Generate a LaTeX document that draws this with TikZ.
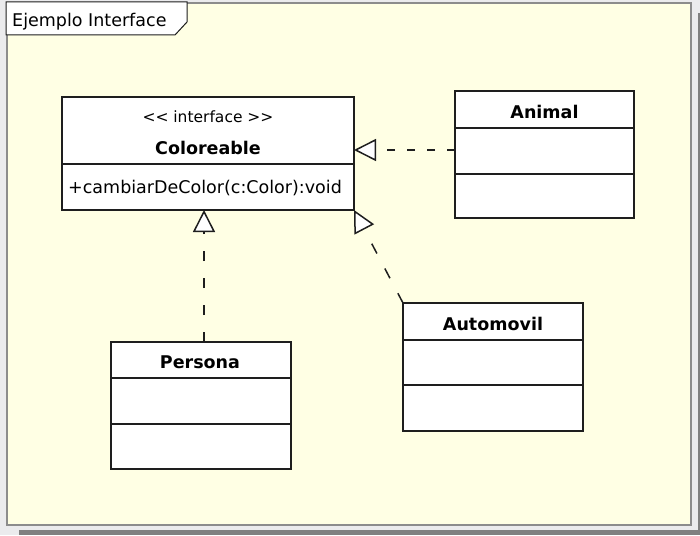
\documentclass[tikz,border=0pt]{standalone}
\usepackage{fontspec}
\setmainfont{DejaVu Sans}
\usetikzlibrary{arrows.meta}
\definecolor{bgyellow}{RGB}{255,255,228}
\definecolor{outergray}{RGB}{235,235,237}
\definecolor{framegray}{RGB}{140,140,140}
\definecolor{shadowgray}{RGB}{128,128,128}
\definecolor{linecol}{RGB}{30,30,30}
\tikzset{
  classbox/.style={draw=linecol, fill=white, line width=1.5pt, inner sep=0pt, outer sep=0pt, anchor=north west},
  divider/.style={draw=linecol, line width=1.5pt},
  txt/.style={font=\fontsize{17.5}{20}\selectfont, inner sep=0pt, anchor=base},
  boldtxt/.style={font=\fontsize{17.5}{20}\selectfont\bfseries, inner sep=0pt, anchor=base},
  realize/.style={draw=linecol, line width=1.5pt, -{Triangle[length=22pt,width=22pt,fill=white]}},
}
\begin{document}
\begin{tikzpicture}[x=1pt,y=-1pt]
\useasboundingbox (0,0) rectangle (700,535);
\fill[outergray] (0,0) rectangle (700,535);
\fill[shadowgray] (698,13) rectangle (700,535);
\fill[shadowgray] (19,530) rectangle (700,535);
\filldraw[fill=bgyellow, draw=framegray, line width=2pt] (7,3) rectangle (691,525);
% title tab
\filldraw[fill=white, draw=linecol, line width=1pt] (6,2) -- (187,2) -- (187,22) -- (175,35) -- (6,35) -- cycle;
\node[txt, anchor=base west] (title) at (12,27) {Ejemplo Interface};

% Coloreable
\node[classbox, minimum width=292pt, minimum height=113pt] (coloreable) at (62,97) {};
\draw[divider] (62,164) -- (354,164);
\node[txt, font=\fontsize{15.5}{20}\selectfont] (stereo) at (208,122) {<\kern0pt< interface >\kern0pt>};
\node[boldtxt] (colname) at (208,154) {Coloreable};
\node[txt, anchor=base west] (colop) at (68,193) {+cambiarDeColor(c:Color):void};

% Animal
\node[classbox, minimum width=179pt, minimum height=127pt] (animal) at (455,91) {};
\draw[divider] (455,128) -- (634,128);
\draw[divider] (455,174) -- (634,174);
\node[boldtxt] (animalname) at (544.5,118) {Animal};

% Automovil
\node[classbox, minimum width=180pt, minimum height=128pt] (automovil) at (403,303) {};
\draw[divider] (403,340) -- (583,340);
\draw[divider] (403,385) -- (583,385);
\node[boldtxt] (autoname) at (493,330) {Automovil};

% Persona
\node[classbox, minimum width=180pt, minimum height=127pt] (persona) at (111,342) {};
\draw[divider] (111,378) -- (291,378);
\draw[divider] (111,424) -- (291,424);
\node[boldtxt] (personaname) at (200,368) {Persona};

% connectors
\draw[realize, dash pattern=on 8pt off 12pt] (animal.west |- 0,150) -- (coloreable.east |- 0,150);
\draw[realize, dash pattern=on 11pt off 17pt] (automovil.north west) -- (coloreable.south east);
\draw[realize, dash pattern=on 10pt off 17pt] ([xshift=3pt]persona.north) -- ([xshift=3pt]persona.north |- coloreable.south);
\end{tikzpicture}
\end{document}
